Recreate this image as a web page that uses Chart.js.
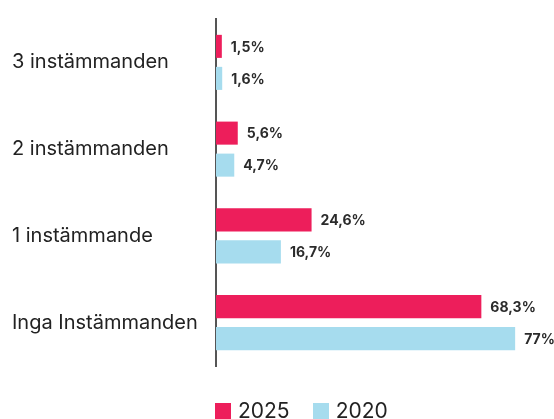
<!DOCTYPE html>
<html>
<head>
<meta charset="utf-8">
<script src="https://cdn.jsdelivr.net/npm/chart.js@4"></script>
<style>
    html, body { margin: 0; padding: 0; background: #fff; }
    #wrap { position: relative; width: 554px; height: 419px; }
    #legend {
        position: absolute; left: 215px; top: 400px;
        font-family: Inter, "Noto Sans", sans-serif; font-size: 21px; color: #222;
        display: flex; align-items: center; line-height: 22px;
    }
    .item { display: flex; align-items: center; margin-right: 23px; }
    .box { width: 16px; height: 16px; margin-right: 7px; }
</style>
</head>
<body>
<div id="wrap">
    <canvas id="barChart" width="554" height="419"></canvas>
    <div id="legend"></div>
</div>
<script>
// Данные графика
const categories = ['3 instämmanden', '2 instämmanden', '1 instämmande', 'Inga Instämmanden'];
const values2025 = [1.5, 5.6, 24.6, 68.3];
const values2020 = [1.6, 4.7, 16.7, 77];
const seriesNames = ['2025', '2020'];
const seriesColors = ['#ED1E5B', '#A6DCEE'];

const fontFamily = 'Inter, "Noto Sans", sans-serif';

// Подписи значений справа от полос
const valueLabels = {
    id: 'valueLabels',
    afterDatasetsDraw(chart) {
        const ctx = chart.ctx;
        ctx.save();
        ctx.font = `700 14px ${fontFamily}`;
        ctx.fillStyle = '#2b2b2b';
        ctx.textBaseline = 'middle';
        ctx.textAlign = 'left';
        chart.data.datasets.forEach((ds, i) => {
            chart.getDatasetMeta(i).data.forEach((bar, j) => {
                const txt = ds.data[j].toString().replace('.', ',') + '%';
                ctx.fillText(txt, bar.x + 9, bar.y + 1);
            });
        });
        ctx.restore();
    }
};

// Легенда снизу
function buildLegend() {
    const legend = document.getElementById('legend');
    seriesNames.forEach((name, i) => {
        const item = document.createElement('div');
        item.className = 'item';
        const box = document.createElement('span');
        box.className = 'box';
        box.style.background = seriesColors[i];
        const txt = document.createElement('span');
        txt.textContent = name;
        item.appendChild(box);
        item.appendChild(txt);
        legend.appendChild(item);
    });
}

function initChart() {
    const ctx = document.getElementById('barChart').getContext('2d');
    new Chart(ctx, {
        type: 'bar',
        data: {
            labels: categories,
            datasets: seriesNames.map((name, i) => ({
                label: name,
                data: i === 0 ? values2025 : values2020,
                backgroundColor: seriesColors[i],
                categoryPercentage: 0.738,
                barPercentage: 0.72
            }))
        },
        options: {
            indexAxis: 'y',
            responsive: false,
            animation: false,
            layout: {
                padding: { left: 12, top: 19, right: 0, bottom: 53 }
            },
            scales: {
                x: {
                    display: false,
                    min: 0,
                    max: 87
                },
                y: {
                    grid: { display: false, drawTicks: false },
                    border: { display: true, color: '#555', width: 2 },
                    ticks: {
                        crossAlign: 'far',
                        padding: 18,
                        color: '#222',
                        font: { family: fontFamily, size: 20 }
                    },
                    afterFit(scale) {
                        // фиксируем ширину оси и убираем лишние отступы
                        scale.width = 204;
                        scale.paddingTop = 0;
                        scale.paddingBottom = 0;
                    }
                }
            },
            plugins: {
                legend: { display: false },
                tooltip: { enabled: false }
            }
        },
        plugins: [valueLabels]
    });
}

document.addEventListener('DOMContentLoaded', () => {
    buildLegend();
    initChart();
});
</script>
</body>
</html>
